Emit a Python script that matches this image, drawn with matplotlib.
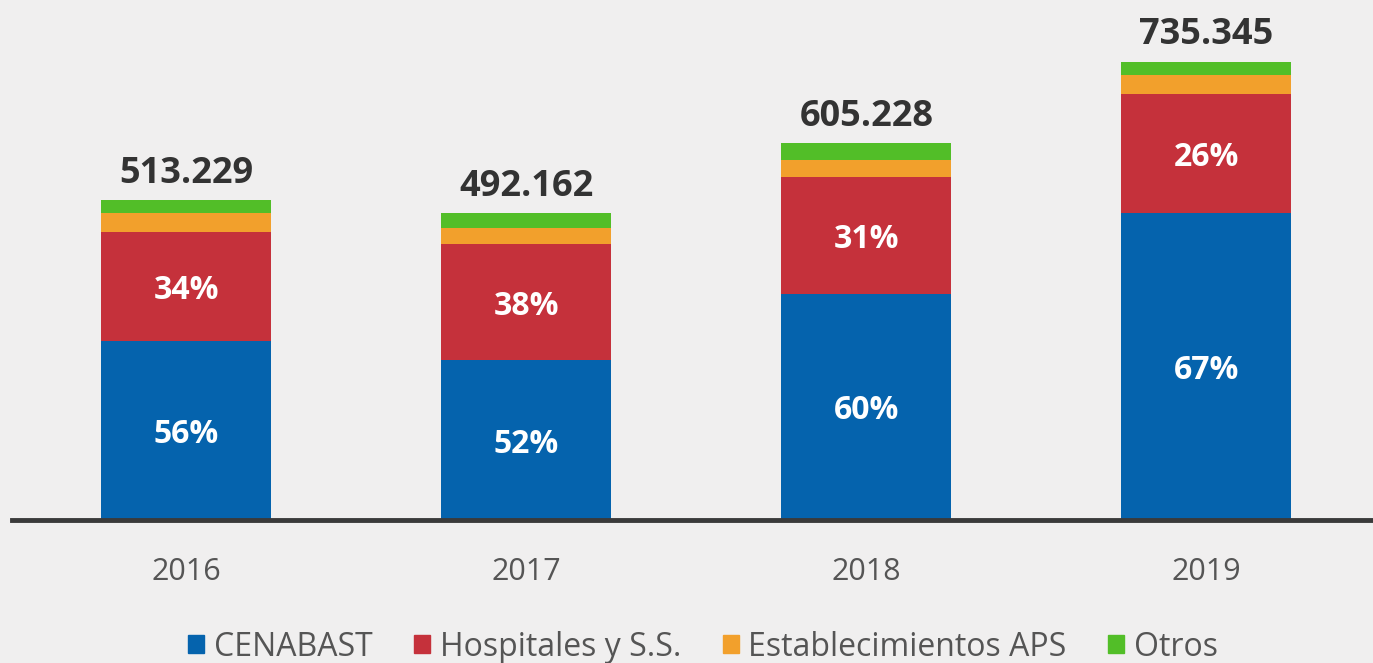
import matplotlib.pyplot as plt
from matplotlib.patches import Patch

plt.rcParams['font.family'] = ['Open Sans', 'DejaVu Sans']

# datos
years = ['2016', '2017', '2018', '2019']
totals = [513.229, 492.162, 605.228, 735.345]
series = ['CENABAST', 'Hospitales y S.S.', 'Establecimientos APS', 'Otros']
pct_cenabast = [56, 52, 60, 67]
pct_hospitales = [34, 38, 31, 26]
pct_aps = [6, 5, 4.5, 4]
pct_otros = [4, 5, 4.5, 3]
labels_cenabast = ['56%', '52%', '60%', '67%']
labels_hospitales = ['34%', '38%', '31%', '26%']

colors = ['#0563AD', '#C5313B', '#F2A02C', '#52BE28']
bg = '#F0EFEF'

fig = plt.figure(figsize=(13.73, 6.63), dpi=100, facecolor=bg)
ax = fig.add_axes([12 / 1373, 143 / 663, 1 - 12 / 1373, 520 / 663])
ax.set_facecolor(bg)

x = list(range(len(years)))
width = 0.5
bottom = [0.0] * len(years)
all_pct = [pct_cenabast, pct_hospitales, pct_aps, pct_otros]
for name, pct, c in zip(series, all_pct, colors):
    h = [t * p / 100 for t, p in zip(totals, pct)]
    ax.bar(x, h, width, bottom=bottom, color=c, label=name, linewidth=0)
    bottom = [b + v for b, v in zip(bottom, h)]

# porcentajes dentro de las barras
for i in x:
    hb = totals[i] * pct_cenabast[i] / 100
    hr = totals[i] * pct_hospitales[i] / 100
    ax.text(i, hb / 2, labels_cenabast[i], ha='center', va='center_baseline',
            color='white', fontsize=23, fontweight='bold')
    ax.text(i, hb + hr / 2, labels_hospitales[i], ha='center', va='center_baseline',
            color='white', fontsize=23, fontweight='bold')
    ax.text(i, totals[i] + 49, f'{totals[i]:.3f}', ha='center', va='center_baseline',
            color='#333333', fontsize=26, fontweight='bold')

ax.set_xlim(-0.512, 3.49)
ax.set_ylim(0, 834)
for s in ['top', 'right', 'left']:
    ax.spines[s].set_visible(False)
ax.spines['bottom'].set_color('#3A3A3A')
ax.spines['bottom'].set_linewidth(3.5)
ax.set_yticks([])
ax.set_xticks(x, labels=years)
ax.tick_params(axis='x', length=0, pad=27, labelsize=22, labelcolor='#555555')

handles = [Patch(color=c, label=s) for s, c in zip(series, colors)]
fig.legend(handles=handles, loc='center', bbox_to_anchor=(0.512, 16 / 663), ncol=4,
           frameon=False, fontsize=23, labelcolor='#555555', handlelength=0.5,
           handleheight=0.5, handletextpad=0.3, columnspacing=1.3)

plt.savefig('out.png', dpi=100, facecolor=bg)
